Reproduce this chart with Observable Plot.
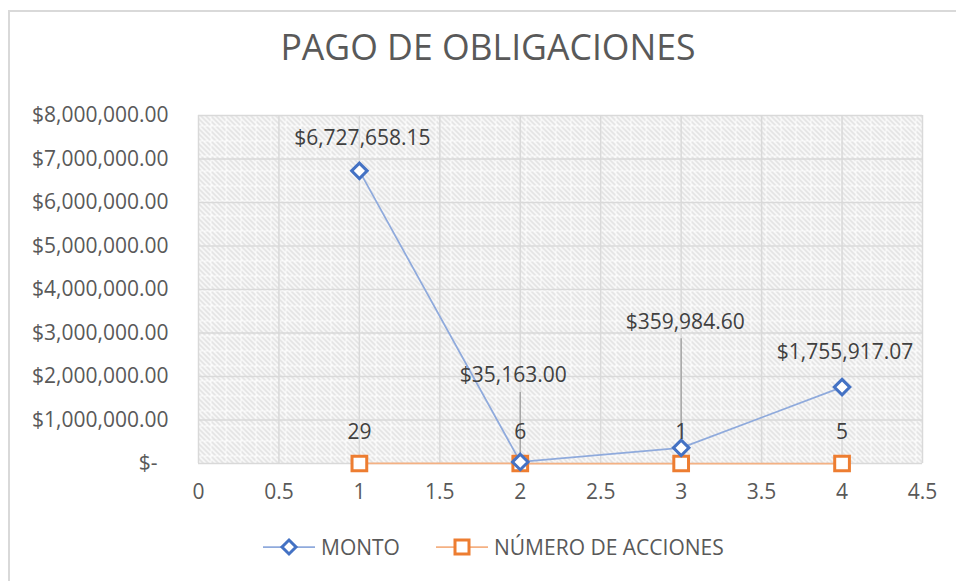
<!DOCTYPE html>
<html>
<head>
<meta charset="utf-8">
<script src="https://cdn.jsdelivr.net/npm/d3@7"></script>
<script src="https://cdn.jsdelivr.net/npm/@observablehq/plot@0.6"></script>
<style>
  html, body { margin: 0; padding: 0; background: #fff; }
  body { width: 956px; height: 581px; overflow: hidden; position: relative; font-family: "Open Sans", sans-serif; color: #595959; }
  #frame { position: absolute; left: 8px; top: 10px; width: 1000px; height: 700px; border: 2px solid #d9d9d9; box-sizing: border-box; }
  #title { position: absolute; left: 0; top: 29px; width: 976px; text-align: center; font-size: 35.6px; font-weight: 400; color: #595959; line-height: 1; }
  #chart { position: absolute; left: 0; top: 95px; }
  #legend { position: absolute; left: 0; top: 531px; width: 956px; height: 32px; }
  .li { position: absolute; top: 0; display: flex; align-items: center; font-size: 21px; color: #595959; height: 32px; }
</style>
</head>
<body>
<div id="frame"></div>
<div id="title">PAGO DE OBLIGACIONES</div>
<div id="chart"></div>
<div id="legend"></div>
<script>
// ---- data ----
const xValues = [1, 2, 3, 4];
const monto = [6727658.15, 35163.00, 359984.60, 1755917.07];
const numeroAcciones = [29, 6, 1, 5];
const seriesNames = ["MONTO", "NÚMERO DE ACCIONES"];
const xTicks = [0, 0.5, 1, 1.5, 2, 2.5, 3, 3.5, 4, 4.5];
const yTicks = [0, 1000000, 2000000, 3000000, 4000000, 5000000, 6000000, 7000000, 8000000];

// ---- styles ----
const blue = "#4472C4", blueLine = "#8faadc";
const orange = "#ED7D31", orangeLine = "#f4b183";
const gridColor = "#d9d9d9";
const fs = "21px";
const montoLabelOffsets = [[3, -33], [-7, -86.5], [4, -126], [3, -35]];
const leaderInsets = [null, [-69.5, 3], [-109, 8], null];

const money = d3.format("$,.2f");
const montoData = xValues.map((x, i) => ({x, y: monto[i], i}));
const numData = xValues.map((x, i) => ({x, y: numeroAcciones[i], i}));

const marks = [
  Plot.frame({fill: "url(#hatch)", stroke: null}),
  Plot.gridX(xTicks, {stroke: gridColor, strokeOpacity: 1, strokeWidth: 1.5}),
  Plot.gridY(yTicks, {stroke: gridColor, strokeOpacity: 1, strokeWidth: 1.5}),
  Plot.axisX(xTicks, {tickSize: 0, tickPadding: 21, fontSize: fs, fill: "#595959", tickFormat: d => String(d)}),
  Plot.axisY(yTicks, {tickSize: 0, tickPadding: 30, fontSize: fs, fill: "#595959",
    tickFormat: d => d === 0 ? "$-\u00a0\u00a0" : money(d)}),
  Plot.line(numData, {x: "x", y: "y", stroke: orangeLine, strokeWidth: 1.75}),
  Plot.line(montoData, {x: "x", y: "y", stroke: blueLine, strokeWidth: 1.75})
];
leaderInsets.forEach((ins, i) => {
  if (!ins) return;
  marks.push(Plot.ruleX([montoData[i]], {x: "x", y1: "y", y2: "y", stroke: "#a6a6a6", strokeWidth: 1.5, insetTop: ins[0], insetBottom: ins[1]}));
});
marks.push(
  Plot.dot(numData, {x: "x", y: "y", symbol: "square", r: 8.3, stroke: orange, strokeWidth: 3, fill: "white"}),
  Plot.dot(montoData, {x: "x", y: "y", symbol: "diamond2", r: 7, stroke: blue, strokeWidth: 3, fill: "white"}),
  Plot.text(numData, {x: "x", y: "y", text: d => String(d.y), dy: -31, fontSize: fs, fill: "#404040"})
);
montoData.forEach((d, i) => {
  marks.push(Plot.text([d], {x: "x", y: "y", text: e => money(e.y), dx: montoLabelOffsets[i][0], dy: montoLabelOffsets[i][1], fontSize: fs, fill: "#404040"}));
});

const chart = Plot.plot({
  width: 956,
  height: 413,
  marginLeft: 198,
  marginRight: 34,
  marginTop: 20,
  marginBottom: 45,
  style: {fontFamily: "'Open Sans', sans-serif", background: "transparent", overflow: "visible"},
  x: {domain: [0, 4.5], label: null},
  y: {domain: [0, 8000000], label: null},
  marks
});

// hatch pattern definition
const svg = d3.select(chart);
const defs = svg.insert("defs", ":first-child");
const T = 15;
const pat = defs.append("pattern").attr("id", "hatch").attr("patternUnits", "userSpaceOnUse")
  .attr("width", T).attr("height", T);
pat.append("rect").attr("width", T).attr("height", T).attr("fill", "#ffffff");
let dpath = "";
for (let k = -T; k <= T; k += 5) dpath += `M${k - 2},-2L${k + T + 2},${T + 2}`;
pat.append("path").attr("d", dpath).attr("stroke", "#e2e2e2").attr("stroke-width", 2);
pat.append("rect").attr("x", 0).attr("y", 0).attr("width", T).attr("height", 1).attr("fill", "#fbfbfb");
pat.append("rect").attr("x", 0).attr("y", 0).attr("width", 1).attr("height", T).attr("fill", "#fbfbfb");

document.getElementById("chart").appendChild(chart);

// legend
const legend = document.getElementById("legend");
function legendItem(left, name, color, lineColor, symbol) {
  const div = document.createElement("div");
  div.className = "li";
  div.style.left = left + "px";
  const s = d3.create("svg").attr("width", 58).attr("height", 32);
  s.append("line").attr("x1", 0).attr("x2", 52).attr("y1", 16).attr("y2", 16).attr("stroke", lineColor).attr("stroke-width", 1.75);
  if (symbol === "diamond") {
    s.append("path").attr("d", "M26,9L33,16L26,23L19,16Z").attr("fill", "white").attr("stroke", color).attr("stroke-width", 3);
  } else {
    s.append("rect").attr("x", 19).attr("y", 9).attr("width", 14).attr("height", 14).attr("fill", "white").attr("stroke", color).attr("stroke-width", 3);
  }
  div.appendChild(s.node());
  const t = document.createElement("span");
  t.textContent = name;
  div.appendChild(t);
  legend.appendChild(div);
}
legendItem(263, seriesNames[0], blue, blueLine, "diamond");
legendItem(436, seriesNames[1], orange, orangeLine, "square");
</script>
</body>
</html>
